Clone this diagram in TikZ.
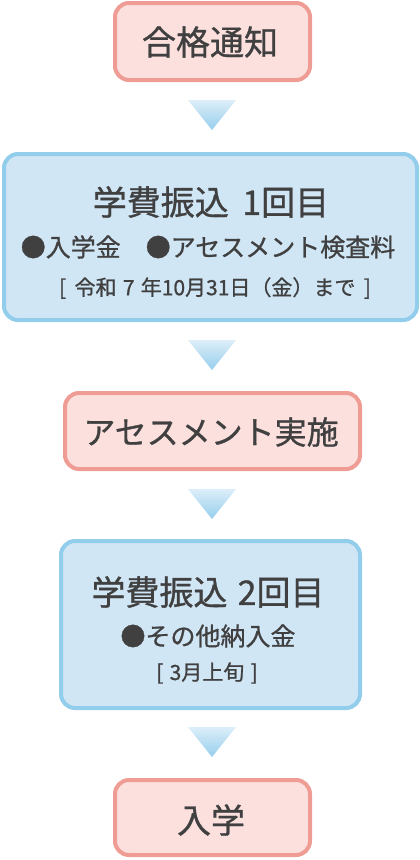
\documentclass[tikz,border=0pt]{standalone}
\usepackage{fontspec}
\setmainfont{Noto Sans CJK JP}[FakeBold=0.9]
\definecolor{pinkfill}{HTML}{FBE0DE}
\definecolor{pinkline}{HTML}{EE9C94}
\definecolor{bluefill}{HTML}{D0E6F5}
\definecolor{blueline}{HTML}{92CDEB}
\definecolor{txt}{HTML}{404040}
\definecolor{tritop}{HTML}{DCEEF9}
\definecolor{tribot}{HTML}{96CEEC}
\tikzset{
  pinkbox/.style={draw=pinkline, fill=pinkfill, line width=4pt, rounded corners=14pt, inner sep=0pt},
  bluebox/.style={draw=blueline, fill=bluefill, line width=4pt, rounded corners=14pt, inner sep=0pt},
  bigtxt/.style={text=txt, inner sep=0pt, font=\fontsize{34}{38}\selectfont},
  kanatxt/.style={text=txt, inner sep=0pt, font=\fontsize{32}{36}\selectfont},
  midtxt/.style={text=txt, inner sep=0pt, font=\fontsize{25}{28}\selectfont},
  smalltxt/.style={text=txt, inner sep=0pt, font=\fontsize{21}{24}\selectfont},
  tri/.style={top color=tritop, bottom color=tribot, draw=none}
}
\begin{document}
\begin{tikzpicture}[x=1pt,y=-1pt]
\useasboundingbox (0,0) rectangle (420,860);
% boxes
\node[pinkbox, minimum width=195pt, minimum height=77pt] (b1) at (212.5,41.5) {};
\node[bluebox, minimum width=413pt, minimum height=166pt] (b2) at (210.5,237) {};
\node[pinkbox, minimum width=295pt, minimum height=76pt] (b3) at (212.5,431) {};
\node[bluebox, minimum width=299pt, minimum height=167pt] (b4) at (210.5,624.5) {};
\node[pinkbox, minimum width=195pt, minimum height=75pt] (b5) at (212.5,817.5) {};
% texts
\node[bigtxt] (t1) at (210,42) {合格通知};
\node[bigtxt] (t2a) at (211,202) {学費振込\hspace{0.4em}1回目};
\node[midtxt] (t2b) at (208,247) {●入学金　●アセスメント検査料};
\node[smalltxt] (t2c) at (215,288) {[\hspace{0.4em}令和\hspace{0.3em}7\hspace{0.3em}年10月31日（金）まで\hspace{0.4em}]};
\node[kanatxt] (t3) at (211,432) {アセスメント実施};
\node[bigtxt] (t4a) at (208,592) {学費振込\hspace{0.3em}2回目};
\node[midtxt] (t4b) at (208,636) {●その他納入金};
\node[smalltxt] (t4c) at (207,673) {[\hspace{0.3em}3月上旬\hspace{0.3em}]};
\node[bigtxt] (t5) at (211,820) {入学};
% triangles
\shade[tri] (188,100) -- (236,100) -- (212,130) -- cycle;
\shade[tri] (188,340) -- (236,340) -- (212,370) -- cycle;
\shade[tri] (188,489) -- (236,489) -- (212,519) -- cycle;
\shade[tri] (188,727) -- (236,727) -- (212,757) -- cycle;
\end{tikzpicture}
\end{document}
